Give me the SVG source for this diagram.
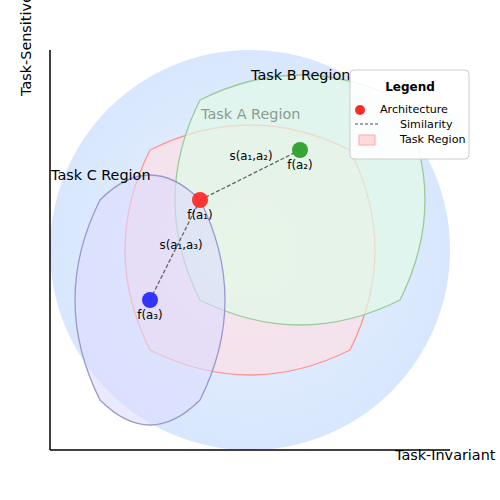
<svg xmlns="http://www.w3.org/2000/svg" width="500" height="500" viewBox="0 0 500 500">
  <style>
    text { font-family: "DejaVu Sans", "Liberation Sans", sans-serif; fill: #000; }
    .region-label { font-size: 14.4px; }
    .pt-label { font-size: 11.8px; text-anchor: middle; }
    .leg { font-size: 11.1px; }
    .axis { stroke: #000; stroke-width: 1.5; fill: none; }
    .sim { stroke: #666; stroke-width: 1.3; stroke-dasharray: 4 2; fill: none; }
  </style>
  <defs>
    <radialGradient id="bgGrad" cx="250" cy="250" r="200" gradientUnits="userSpaceOnUse">
      <stop offset="0" stop-color="#e9f1fe"/>
      <stop offset="1" stop-color="#d8e7fd"/>
    </radialGradient>
  </defs>

  <rect x="0" y="0" width="500" height="500" fill="#ffffff"/>

  <g id="space">
    <circle cx="250" cy="250" r="200" fill="url(#bgGrad)"/>
  </g>

  <g id="taskA">
    <path d="M150,150 Q250,100 350,150 Q400,250 350,350 Q250,400 150,350 Q100,250 150,150 Z" fill="#ffdde3" fill-opacity="0.65" stroke="#ff9595" stroke-width="1.3"/>
  </g>

  <g id="taskB">
    <path d="M200,100 Q300,50 400,100 Q450,200 400,300 Q300,350 200,300 Q150,200 200,100 Z" fill="#e0f9e6" fill-opacity="0.72" stroke="#99cc99" stroke-width="1.3"/>
    <text class="region-label" x="251" y="80">Task B Region</text>
  </g>

  <g id="taskA-label">
    <text class="region-label" x="201" y="119" style="fill:#8c9b91">Task A Region</text>
  </g>

  <g id="taskC">
    <path d="M100,200 Q150,150 200,200 Q250,300 200,400 Q150,450 100,400 Q50,300 100,200 Z" fill="#dcdcff" fill-opacity="0.6" stroke="#9999cc" stroke-width="1.3"/>
    <text class="region-label" x="51" y="180">Task C Region</text>
  </g>

  <g id="axes">
    <line class="axis" x1="50" y1="50" x2="50" y2="450"/>
    <line class="axis" x1="50" y1="450" x2="450" y2="450"/>
    <text class="region-label" x="395" y="460">Task-Invariant Axis</text>
    <text class="region-label" transform="translate(31,96) rotate(-90)" x="0" y="0">Task-Sensitive Axis</text>
  </g>

  <g id="connectors">
    <line class="sim" x1="200" y1="200" x2="300" y2="150"/>
    <line class="sim" x1="200" y1="200" x2="150" y2="300"/>
    <text class="pt-label" x="251" y="160">s(a₁,a₂)</text>
    <text class="pt-label" x="181" y="249">s(a₁,a₃)</text>
  </g>

  <g id="a1">
    <circle cx="200" cy="200" r="8" fill="#ff2a2a" fill-opacity="0.95"/>
    <text class="pt-label" x="200" y="219">f(a₁)</text>
  </g>
  <g id="a2">
    <circle cx="300" cy="150" r="8" fill="#2ca02c" fill-opacity="0.95"/>
    <text class="pt-label" x="300" y="169">f(a₂)</text>
  </g>
  <g id="a3">
    <circle cx="150" cy="300" r="8" fill="#2a2aff" fill-opacity="0.95"/>
    <text class="pt-label" x="150" y="319">f(a₃)</text>
  </g>

  <g id="legend">
    <rect x="350" y="70" width="119" height="89" rx="4" ry="4" fill="#ffffff" fill-opacity="0.9" stroke="#cccccc" stroke-width="1"/>
    <text x="410" y="91" font-size="12px" font-weight="bold" text-anchor="middle">Legend</text>
    <circle cx="360" cy="110" r="5" fill="#ff2a2a"/>
    <text class="leg" x="380" y="113">Architecture</text>
    <line x1="355" y1="124" x2="380" y2="124" stroke="#888" stroke-width="1.3" stroke-dasharray="3 2"/>
    <text class="leg" x="400" y="128">Similarity</text>
    <rect x="359" y="135" width="16" height="10" fill="#ffdada" stroke="#ffaaaa" stroke-width="1"/>
    <text class="leg" x="400" y="143">Task Region</text>
  </g>
</svg>
